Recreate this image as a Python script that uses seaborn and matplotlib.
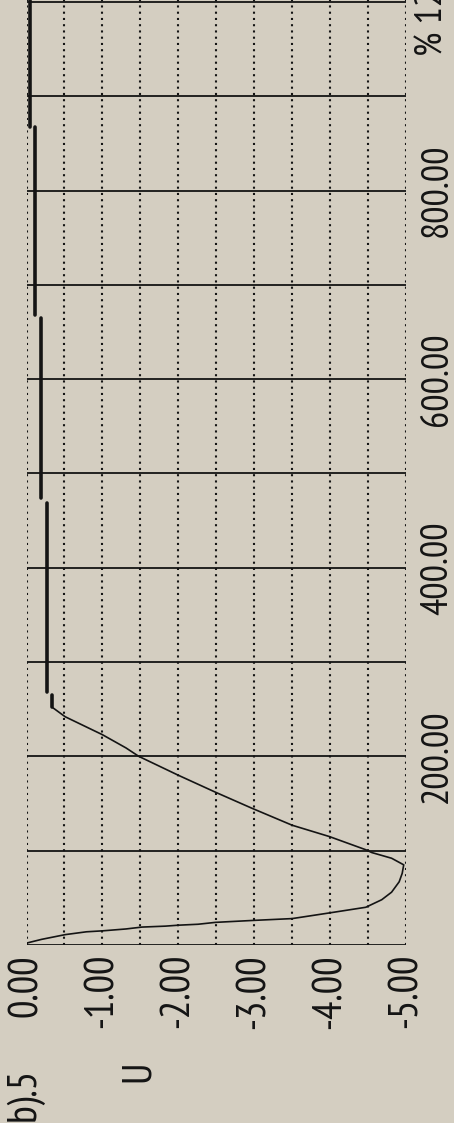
import numpy as np
import pandas as pd
import matplotlib
matplotlib.use("Agg")
import matplotlib.pyplot as plt
import seaborn as sns

# ---- data ----
t_curve = [2, 6, 11, 14, 15, 17, 19, 20, 21, 22, 24, 26, 28, 34, 40, 48, 56, 67,
           76, 85, 92, 98, 101, 115, 127, 145, 162, 180, 200, 209, 223, 242, 252]
u_curve = [0.0, -0.20, -0.51, -0.79, -1.00, -1.31, -1.52, -1.83, -2.00, -2.26,
           -2.49, -2.97, -3.50, -3.99, -4.47, -4.68, -4.81, -4.91, -4.95, -4.97,
           -4.81, -4.55, -4.47, -3.99, -3.50, -2.97, -2.49, -2.00, -1.48, -1.31,
           -1.00, -0.51, -0.34]

plateau_u = [-0.34, -0.27, -0.19, -0.11, -0.05]
plateau_t0 = [252, 268, 474, 668, 867]
plateau_t1 = [265, 469, 665, 867, 1002]

u_ticks = [0, -1, -2, -3, -4, -5]
u_ticklabels = ["0.00", "-1.00", "-2.00", "-3.00", "-4.00", "-5.00"]
t_ticks = [0, 100, 200, 300, 400, 500, 600, 700, 800, 900, 1000]
t_ticklabels = ["", "", "200.00", "", "400.00", "", "600.00", "", "800.00", "", ""]
title_text = "b).5"
ylabel_text = "U"
scale_text = "% 12"

# ---- style ----
bg = "#d4cec1"
ink = "#141414"
sns.set_theme(style="white")
plt.rcParams["font.family"] = ["PT Sans Narrow", "DejaVu Sans"]
plt.rcParams["axes.facecolor"] = bg
plt.rcParams["figure.facecolor"] = bg
FS = 29.5
FS_T = 27.5

W, H = 454, 1123
fig = plt.figure(figsize=(W / 100, H / 100), dpi=100)
ax = fig.add_axes([26.5 / W, 178 / H, (406 - 26.5) / W, 945 / H])
ax.set_facecolor(bg)

curve = pd.DataFrame({"U": u_curve, "t": t_curve})
sns.lineplot(data=curve, x="U", y="t", orient="y", sort=False, estimator=None,
             color=ink, lw=1.2, ax=ax)

rows = []
for i, (u, a, b) in enumerate(zip(plateau_u, plateau_t0, plateau_t1)):
    rows.append({"seg": i, "U": u, "t": a})
    rows.append({"seg": i, "U": u, "t": b})
plat = pd.DataFrame(rows)
sns.lineplot(data=plat, x="U", y="t", units="seg", orient="y", sort=False,
             estimator=None, color=ink, lw=2.6, ax=ax)

ax.set_xlim(0, -5)
ax.set_ylim(0, 1002)
ax.set_xlabel("")
ax.set_ylabel("")

ax.set_xticks(u_ticks)
ax.set_xticklabels(u_ticklabels)
ax.set_xticks(np.arange(-0.5, -5.0, -1.0), minor=True)
ax.set_yticks(t_ticks)
ax.set_yticklabels(t_ticklabels)
ax.yaxis.tick_right()

ax.grid(which="both", axis="x", color=ink, lw=1.5, ls=(0, (1, 2)))
ax.grid(which="major", axis="y", color=ink, lw=1.3, ls="-")
for s in ax.spines.values():
    s.set_visible(False)

ax.tick_params(which="both", length=0)
ax.tick_params(axis="x", pad=6.5, labelsize=FS, labelcolor=ink, labelrotation=90)
ax.tick_params(axis="y", pad=10, labelsize=FS_T, labelcolor=ink, labelrotation=90)
for lbl in ax.get_xticklabels():
    lbl.set_va("top")
    lbl.set_ha("center")
for lbl in ax.get_yticklabels():
    lbl.set_va("center")
    lbl.set_ha("left")

fig.text(25 / W, 1 - 1121 / H, title_text, rotation=90, ha="center", va="bottom",
         fontsize=FS, color=ink)
fig.text(138 / W, 1 - 1071 / H, ylabel_text, rotation=90, ha="center", va="center",
         fontsize=FS, color=ink)
fig.text(433 / W, 1 - 56 / H, scale_text, rotation=90, ha="center", va="bottom",
         fontsize=FS_T, color=ink)

fig.savefig("out.png", dpi=100, facecolor=bg)
